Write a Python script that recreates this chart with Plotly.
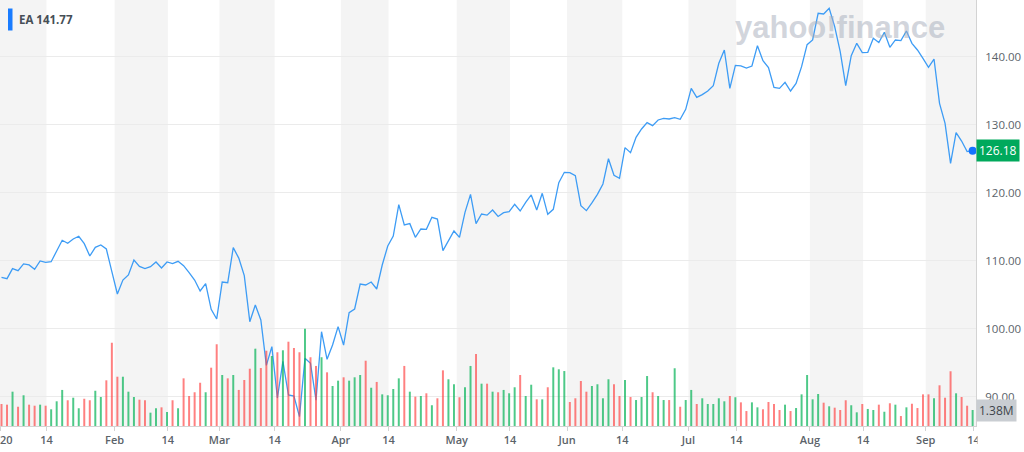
import numpy as np
import pandas as pd
import plotly.graph_objects as go

# ---------------- data ----------------
ticker = "EA"
legend_value = 141.77
holidays = ["2020-01-20", "2020-02-17", "2020-04-10", "2020-05-25", "2020-07-03", "2020-09-07"]

closes = [
    107.56, 107.36, 108.83, 108.54, 109.52, 109.37, 108.73, 109.96, 109.76, 109.85,
    111.43, 113.00, 112.56, 113.19, 113.59, 112.51, 110.69, 111.97, 112.31, 111.72,
    108.39, 105.10, 107.16, 107.90, 110.10, 109.17, 108.83, 109.12, 109.81, 108.93,
    109.81, 109.57, 109.91, 109.27, 108.24, 107.16, 105.55, 106.62, 102.85, 101.43,
    106.87, 106.77, 111.92, 110.38, 107.80, 101.03, 103.48, 101.28, 94.60, 97.36,
    89.80, 95.20, 90.25, 90.10, 87.06, 95.64, 94.90, 89.50, 99.56, 95.50,
    97.60, 100.30, 97.60, 102.36, 102.90, 106.57, 106.43, 106.87, 105.84, 109.37,
    112.16, 113.63, 118.24, 115.25, 115.45, 113.44, 114.66, 114.61, 116.38, 116.13,
    111.48, 112.90, 114.37, 113.44, 117.10, 119.76, 115.45, 116.87, 116.70, 117.46,
    116.50, 117.07, 117.22, 118.29, 117.31, 118.59, 119.67, 117.46, 119.91, 116.82,
    117.56, 121.48, 123.00, 122.95, 122.51, 118.10, 117.36, 118.49, 119.76, 121.28,
    125.00, 122.56, 122.12, 126.63, 125.89, 128.15, 129.37, 130.30, 129.86, 130.70,
    130.94, 130.84, 131.04, 130.80, 132.26, 135.35, 134.03, 134.42, 134.96, 135.74,
    139.03, 140.99, 135.35, 138.73, 138.66, 138.32, 138.63, 141.62, 139.42, 138.39,
    135.50, 135.35, 136.23, 134.96, 136.08, 138.54, 141.77, 142.46, 146.38, 146.28,
    147.11, 144.42, 140.74, 135.74, 140.15, 141.97, 140.60, 140.65, 142.70, 142.07,
    143.59, 141.38, 142.46, 142.36, 143.78, 141.97, 140.99, 139.76, 138.44, 139.66,
    133.14, 130.20, 124.32, 128.83, 127.60, 126.05, 126.18,
]

volumes_m = [
    1.90, 1.84, 2.96, 1.66, 2.65, 1.84, 1.75, 1.84, 1.75, 1.44,
    2.13, 3.11, 2.22, 2.44, 1.53, 2.35, 2.22, 3.04, 2.50, 3.94,
    7.18, 4.25, 4.25, 2.96, 2.50, 2.27, 2.22, 1.15, 1.53, 1.61,
    1.21, 2.22, 1.53, 4.11, 2.59, 2.91, 3.73, 2.91, 5.03, 7.05,
    4.40, 4.11, 4.40, 3.11, 3.97, 4.94, 6.67, 5.00, 6.49, 6.04,
    6.36, 6.53, 7.27, 6.73, 6.36, 8.39, 5.93, 5.18, 5.93, 4.63,
    3.45, 3.91, 4.20, 3.91, 4.20, 4.40, 5.63, 3.30, 3.80, 2.73,
    2.65, 3.19, 4.11, 5.18, 2.96, 2.53, 2.59, 2.82, 1.79, 2.39,
    4.80, 4.03, 3.60, 2.48, 3.34, 5.18, 6.21, 3.65, 3.65, 2.96,
    2.91, 3.11, 2.82, 3.34, 4.40, 2.59, 3.56, 2.30, 2.30, 3.34,
    5.06, 4.89, 4.74, 2.07, 2.39, 3.88, 2.96, 3.45, 3.60, 2.39,
    4.03, 3.60, 2.59, 3.97, 2.50, 2.24, 2.50, 4.31, 2.91, 2.59,
    2.24, 2.24, 4.98, 1.66, 2.24, 3.11, 1.90, 2.39, 1.90, 1.90,
    2.39, 2.13, 2.59, 2.48, 2.04, 1.29, 2.04, 1.61, 1.44, 2.07,
    1.90, 1.38, 1.84, 1.29, 1.55, 2.73, 4.40, 2.30, 2.76, 2.01,
    1.70, 1.58, 1.38, 2.22, 1.79, 1.18, 1.90, 1.47, 1.38, 1.84,
    1.23, 1.96, 1.84, 0.86, 1.61, 1.92, 1.55, 2.73, 2.73, 2.39,
    3.51, 2.44, 4.72, 2.82, 2.50, 1.75, 1.38,
]

tick_dates = ["2020-01-01", "2020-01-14", "2020-02-01", "2020-02-14", "2020-03-01", "2020-03-14",
              "2020-04-01", "2020-04-14", "2020-05-01", "2020-05-14", "2020-06-01", "2020-06-14",
              "2020-07-01", "2020-07-14", "2020-08-01", "2020-08-14", "2020-09-01", "2020-09-14"]
tick_labels = ["2020", "14", "Feb", "14", "Mar", "14", "Apr", "14", "May", "14", "Jun", "14",
               "Jul", "14", "Aug", "14", "Sep", "14"]
price_ticks = [90, 100, 110, 120, 130, 140]

# ---------------- trading calendar ----------------
trading = pd.bdate_range("2020-01-02", "2020-09-14")
trading = trading[~trading.isin(pd.to_datetime(holidays))]
dates = [d.strftime("%Y-%m-%d") for d in trading]
n = len(dates)
assert n == len(closes) == len(volumes_m), (n, len(closes), len(volumes_m))
xs = list(range(n))

X0, X1 = -0.272, 176.61          # visible index range
PW, PH = 976, 426                # plot area in px


def tick_pos(dstr):
    d = pd.Timestamp(dstr)
    i = int(np.searchsorted(trading.values, np.datetime64(d)))
    on_day = i < n and trading[i] == d
    p = i + 0.15 if (on_day and d.day == 14) else i - 0.5
    return max(p, X0 + 0.001)


tick_vals = [tick_pos(d) for d in tick_dates]

# bar colours: up vs previous close
UP, DOWN = "rgba(10,180,90,0.72)", "rgba(255,62,62,0.66)"
bar_colors = [UP if (i > 0 and closes[i] > closes[i - 1]) else DOWN for i in range(n)]

fig = go.Figure()
fig.add_trace(go.Scatter(x=xs, y=closes, mode="lines", yaxis="y",
                         line=dict(color="#3d9cf5", width=1.3), hoverinfo="skip"))
fig.add_trace(go.Bar(x=xs, y=volumes_m, yaxis="y2", width=0.36,
                     marker=dict(color=bar_colors, line=dict(width=0)), hoverinfo="skip"))
fig.add_trace(go.Scatter(x=[xs[-1]], y=[closes[-1]], mode="markers", yaxis="y3",
                         marker=dict(color="#1473ff", size=8), hoverinfo="skip", cliponaxis=False))

# alternating month shading (1st -> 14th)
shapes = []
for k in range(0, len(tick_dates), 2):
    x0 = tick_vals[k]
    x1 = tick_vals[k + 1]
    if x1 >= n - 1:
        x1 = X1
    shapes.append(dict(type="rect", xref="x", yref="paper", x0=x0, x1=x1, y0=0, y1=1,
                       fillcolor="#f4f4f4", line=dict(width=0), layer="below"))

# legend marker
shapes.append(dict(type="rect", xref="paper", yref="paper",
                   x0=8 / PW, x1=12.5 / PW, y0=1 - 30.5 / PH, y1=1 - 8.5 / PH,
                   fillcolor="#1a7cff", line=dict(width=0), layer="above"))
# clip x labels past the right axis
shapes.append(dict(type="rect", xref="paper", yref="paper",
                   x0=977.5 / PW, x1=1030 / PW, y0=-30 / PH, y1=-1.5 / PH,
                   fillcolor="white", line=dict(width=0), layer="above"))

annotations = [
    dict(xref="paper", yref="paper", x=839.5 / PW, y=1 - 27 / PH, xanchor="center", yanchor="middle",
         text="yahoo!finance", showarrow=False,
         font=dict(family="Liberation Sans", size=31, color="rgba(165,172,186,0.5)", weight="bold")),
    dict(xref="paper", yref="paper", x=17 / PW, y=1 - 19.5 / PH, xanchor="left", yanchor="middle",
         text=f"{ticker} {legend_value:.2f}", showarrow=False,
         font=dict(family="Open Sans", size=11.5, color="#464e56", weight="bold")),
    dict(xref="paper", yref="y", x=1, y=closes[-1], xanchor="left", yanchor="middle",
         text=f"{closes[-1]:.2f}", showarrow=False, bgcolor="#00a95c", borderpad=2,
         font=dict(family="Open Sans", size=12, color="white")),
    dict(xref="paper", yref="y2", x=1, y=volumes_m[-1], xanchor="left", yanchor="middle",
         text=f"{volumes_m[-1]:.2f}M", showarrow=False, bgcolor="#c9cdd2", borderpad=2,
         font=dict(family="Open Sans", size=12, color="#3d444b")),
]

PMIN, PMAX = 85.69, 148.34
VMAX = 36.74

fig.update_layout(
    width=1024, height=452,
    margin=dict(l=0, r=1024 - PW, t=0, b=452 - PH, autoexpand=False),
    paper_bgcolor="white", plot_bgcolor="white",
    showlegend=False,
    shapes=shapes, annotations=annotations,
    xaxis=dict(range=[X0, X1], tickmode="array", tickvals=tick_vals, ticktext=tick_labels,
               automargin=False,
               showgrid=False, zeroline=False, showline=True, linecolor="#d3d3d3", linewidth=1,
               ticks="outside", ticklen=4, tickcolor="#d3d3d3", ticklabeloverflow="allow",
               tickfont=dict(family="Open Sans", size=11, color="#5b636a", weight=600)),
    yaxis=dict(range=[PMIN, PMAX], side="right", tickmode="array", tickvals=price_ticks,
               automargin=False,
               tickformat=".2f", showgrid=True, gridcolor="#ebebeb", gridwidth=1, zeroline=False,
               showline=True, linecolor="#d3d3d3", ticks="", ticklabelstandoff=6,
               tickfont=dict(family="Open Sans", size=11.5, color="#5b636a")),
    yaxis2=dict(range=[0, VMAX], overlaying="y", visible=False, showgrid=False),
    yaxis3=dict(range=[PMIN, PMAX], overlaying="y", matches="y", visible=False, showgrid=False),
)

fig.write_html("out.html")
